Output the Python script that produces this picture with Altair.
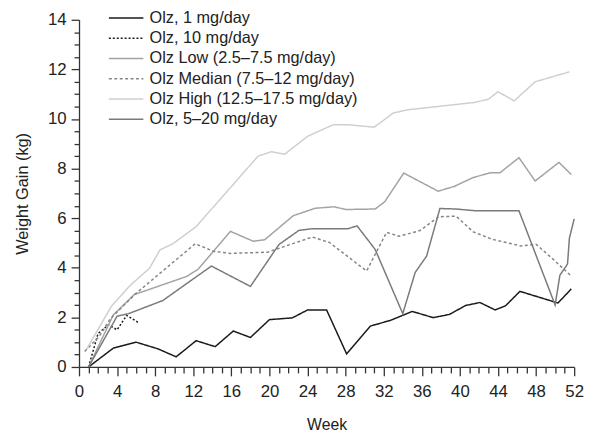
import altair as alt
import pandas as pd

series_names = [
    "Olz, 1 mg/day",
    "Olz, 10 mg/day",
    "Olz Low (2.5–7.5 mg/day)",
    "Olz Median (7.5–12 mg/day)",
    "Olz High (12.5–17.5 mg/day)",
    "Olz, 5–20 mg/day",
]

w1 = [1, 3.6, 6, 8.3, 10.2, 12.3, 14.3, 16.2, 18, 20, 22.4, 24, 26, 28.1, 30.6, 32.7, 35, 37.2, 38.9, 40.6, 42.1, 43.7, 44.8, 46.3, 50.3, 51.7]
v1 = [0, 0.76, 1.0, 0.73, 0.41, 1.06, 0.82, 1.45, 1.19, 1.91, 1.98, 2.3, 2.3, 0.53, 1.65, 1.88, 2.24, 1.99, 2.12, 2.48, 2.6, 2.3, 2.47, 3.05, 2.58, 3.15]

w2 = [1, 2, 3.1, 4, 5, 6.2]
v2 = [0, 1.35, 1.7, 1.5, 2.08, 1.8]

w3 = [1, 3.6, 5.8, 11.3, 12.5, 15.9, 18.3, 19.5, 22.5, 24.8, 26.8, 28, 31.1, 32.1, 34.1, 37.7, 39.4, 41.4, 43.2, 44.2, 46.2, 47.9, 50.4, 51.7]
v3 = [0, 2.1, 2.92, 3.65, 3.94, 5.47, 5.07, 5.13, 6.1, 6.4, 6.46, 6.35, 6.37, 6.66, 7.82, 7.09, 7.28, 7.64, 7.83, 7.83, 8.44, 7.5, 8.25, 7.76]

w4 = [0.6, 2.1, 3.3, 5.9, 12.2, 14.1, 15.9, 19.8, 24.5, 26.3, 30.2, 32.3, 33.6, 35.8, 37.8, 39.6, 41.4, 43.3, 46.4, 48, 49.8, 51.6]
v4 = [0.63, 1.22, 1.95, 2.94, 4.97, 4.67, 4.58, 4.63, 5.24, 5.02, 3.87, 5.43, 5.27, 5.5, 6.06, 6.08, 5.45, 5.16, 4.88, 4.95, 4.34, 3.7]

w5 = [0.8, 3.4, 5.4, 7.4, 8.5, 9.9, 12.3, 18.8, 20.2, 21.6, 24, 26.7, 28.2, 31, 33, 34.5, 41.6, 43, 44, 45.7, 47.9, 51.5]
v5 = [0.72, 2.45, 3.3, 3.98, 4.72, 4.98, 5.66, 8.5, 8.68, 8.58, 9.3, 9.77, 9.77, 9.67, 10.24, 10.37, 10.67, 10.8, 11.1, 10.73, 11.5, 11.9]

w6 = [1, 4, 5.2, 8.8, 13.9, 18, 21, 23.1, 24.4, 28.2, 29.2, 31.1, 34, 35.3, 36.5, 37.9, 39.6, 41.6, 46.2, 50, 50.5, 51.3, 51.5, 52]
v6 = [0, 2.05, 2.15, 2.68, 4.07, 3.25, 4.94, 5.51, 5.57, 5.57, 5.69, 4.74, 2.15, 3.81, 4.47, 6.39, 6.37, 6.3, 6.3, 2.5, 3.7, 4.15, 5.2, 5.97]

colors = ["#1a1a1a", "#1a1a1a", "#a3a3a3", "#858585", "#cfcfcf", "#7a7a7a"]
dashes = [[1, 0], [2, 2], [1, 0], [3, 2.5], [1, 0], [1, 0]]

y_ticks = [i * 0.5 for i in range(29)]
x_ticks = list(range(53))

rows = []
for name, ws, vs in zip(series_names, [w1, w2, w3, w4, w5, w6], [v1, v2, v3, v4, v5, v6]):
    for w, v in zip(ws, vs):
        rows.append({"series": name, "week": w, "gain": v})
df = pd.DataFrame(rows)

FONT = "Liberation Sans"

chart = alt.Chart(df).mark_line(strokeWidth=1.5).encode(
    x=alt.X(
        "week:Q",
        scale=alt.Scale(domain=[0, 52], nice=False),
        axis=alt.Axis(
            values=x_ticks,
            labelExpr="datum.value % 4 === 0 ? format(datum.value, 'd') : ''",
            tickSize={"condition": {"test": "datum.value % 4 === 0", "value": 9}, "value": 6},
            labelOverlap=False,
            labelFlush=False,
            labelPadding=8,
            labelFontSize=17,
            labelFont=FONT,
            labelColor="#222",
            title="Week",
            titleFont=FONT,
            titleFontSize=16,
            titleFontWeight="normal",
            titleColor="#222",
            titlePadding=17,
            grid=False,
            domainColor="#333",
            tickColor="#333",
            domainWidth=1.3,
            tickWidth=1.3,
        ),
    ),
    y=alt.Y(
        "gain:Q",
        scale=alt.Scale(domain=[0, 14], nice=False),
        axis=alt.Axis(
            values=y_ticks,
            labelExpr="datum.value % 2 === 0 ? format(datum.value, 'd') : ''",
            tickSize={"condition": {"test": "datum.value % 2 === 0", "value": 8}, "value": 5},
            labelOverlap=False,
            labelFlush=False,
            labelPadding=5,
            labelFontSize=17,
            labelFont=FONT,
            labelColor="#222",
            title="Weight Gain (kg)",
            titleFont=FONT,
            titleFontSize=16.5,
            titleFontWeight="normal",
            titleColor="#222",
            titlePadding=17,
            grid=False,
            domainColor="#333",
            tickColor="#333",
            domainWidth=1.3,
            tickWidth=1.3,
        ),
    ),
    color=alt.Color(
        "series:N",
        sort=series_names,
        scale=alt.Scale(domain=series_names, range=colors),
        legend=alt.Legend(
            orient="none",
            legendX=52,
            legendY=-10,
            title=None,
            symbolType="M-6,0H1",
            symbolSize=100,
            symbolStrokeWidth=1.5,
            labelFontSize=16.5,
            labelFont=FONT,
            labelColor="#222",
            labelLimit=0,
            labelOffset=3,
            rowPadding=3.5,
            padding=0,
        ),
    ),
    strokeDash=alt.StrokeDash(
        "series:N",
        sort=series_names,
        scale=alt.Scale(domain=series_names, range=dashes),
        legend=None,
    ),
).properties(
    width=502,
    height=352,
    autosize=alt.AutoSizeParams(type="none"),
    padding={"left": 72, "top": 9, "right": 13, "bottom": 66},
).configure_view(stroke=None)

chart.save("out.html", embed_options={"renderer": "svg", "actions": False})
